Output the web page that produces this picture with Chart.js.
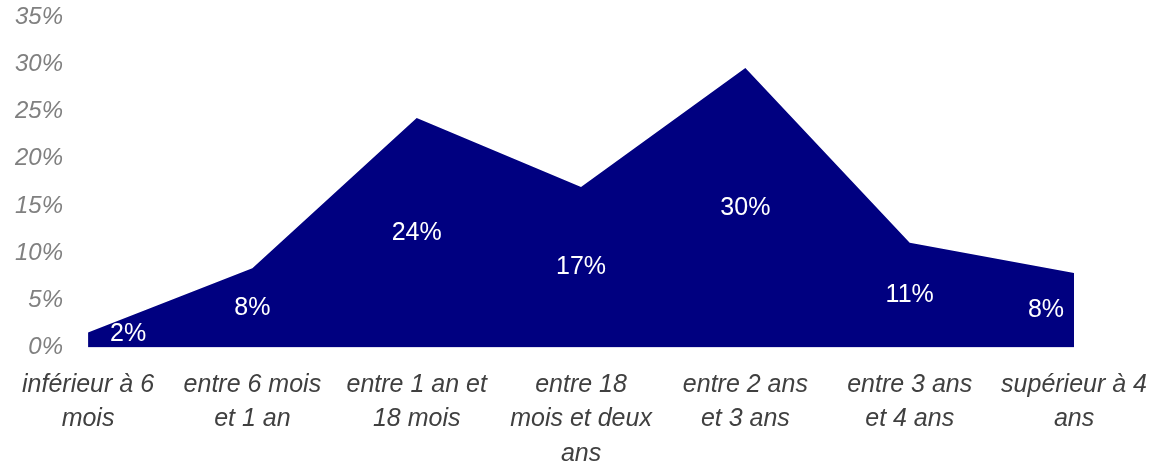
<!DOCTYPE html>
<html>
<head>
<meta charset="utf-8">
<script src="https://cdn.jsdelivr.net/npm/chart.js@4/dist/chart.umd.min.js"></script>
<style>
  html, body { margin: 0; padding: 0; background: #fff; }
  #wrap { width: 1167px; height: 464px; }
</style>
</head>
<body>
<div id="wrap"><canvas id="ancienneteChart"></canvas></div>
<script>
const categories = [
    ['inférieur à 6', 'mois'],
    ['entre 6 mois', 'et 1 an'],
    ['entre 1 an et', '18 mois'],
    ['entre 18', 'mois et deux', 'ans'],
    ['entre 2 ans', 'et 3 ans'],
    ['entre 3 ans', 'et 4 ans'],
    ['supérieur à 4', 'ans']
];
const shares = [1.6, 8.4, 24.3, 17.0, 29.6, 11.1, 7.9];
const yTicks = [0, 5, 10, 15, 20, 25, 30, 35];

const fontFamily = '"Liberation Sans", Arial, sans-serif';

// white labels inside the area, halfway between the point and zero
const areaLabels = {
    id: 'areaLabels',
    afterDatasetsDraw(chart) {
        const c = chart.ctx;
        const meta = chart.getDatasetMeta(0);
        const area = chart.chartArea;
        const zero = chart.scales.y.getPixelForValue(0);
        c.save();
        c.font = '25px ' + fontFamily;
        c.fillStyle = '#ffffff';
        c.textAlign = 'center';
        c.textBaseline = 'middle';
        meta.data.forEach((pt, i) => {
            const txt = Math.round(shares[i]) + '%';
            const w = c.measureText(txt).width;
            let x = Math.max(pt.x, area.left + 22 + w / 2);
            x = Math.min(x, area.right - 10 - w / 2);
            let y = (pt.y + zero) / 2;
            y = Math.min(y, zero - 13);
            c.fillText(txt, x, y);
        });
        c.restore();
    }
};

new Chart(document.getElementById('ancienneteChart'), {
    type: 'line',
    data: {
        labels: categories,
        datasets: [{
            data: shares,
            fill: 'origin',
            backgroundColor: '#000080',
            borderColor: '#000080',
            borderWidth: 0,
            pointRadius: 0,
            tension: 0
        }]
    },
    options: {
        responsive: true,
        maintainAspectRatio: false,
        animation: false,
        layout: { padding: { top: 17, right: 26, left: -10, bottom: -27 } },
        plugins: {
            legend: { display: false },
            tooltip: { enabled: false }
        },
        scales: {
            x: {
                offset: false,
                grid: { display: false, drawTicks: false },
                border: { display: false },
                ticks: {
                    color: '#404040',
                    padding: 20,
                    maxRotation: 0,
                    autoSkip: false,
                    font: { family: fontFamily, size: 25, style: 'italic', lineHeight: 1.38 }
                }
            },
            y: {
                min: 0,
                max: 35,
                afterBuildTicks: (scale) => { scale.ticks = yTicks.map(v => ({ value: v })); },
                afterFit: (scale) => { scale.paddingTop = 0; scale.paddingBottom = 0; },
                grid: { display: false, drawTicks: false },
                border: { display: false },
                ticks: {
                    color: '#808080',
                    padding: 25,
                    callback: (v) => v + '%',
                    font: { family: fontFamily, size: 24, style: 'italic' }
                }
            }
        }
    },
    plugins: [areaLabels]
});
</script>
</body>
</html>
